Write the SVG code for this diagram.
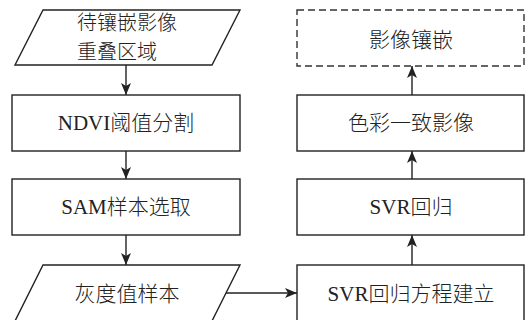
<svg xmlns="http://www.w3.org/2000/svg" width="528" height="320" viewBox="0 0 528 320">
<defs>
<style>
.box{fill:#fff;stroke:#222;stroke-width:1.4}
.dash{fill:#fff;stroke:#333;stroke-width:1.4;stroke-dasharray:7 4}
.t{font-family:"Noto Sans CJK SC",sans-serif;font-weight:300;font-size:21px;fill:#222}
.s{font-size:20px}
.c{text-anchor:middle}
.ln{stroke:#222;stroke-width:1.4;fill:none;marker-end:url(#ah)}
</style>
<marker id="ah" viewBox="0 0 12 10" refX="12" refY="5" markerWidth="12" markerHeight="10" markerUnits="userSpaceOnUse" orient="auto">
<path d="M0,0 L12,5 L0,10 L3,5 Z" fill="#222"/>
</marker>
</defs>
<rect width="528" height="320" fill="#fff"/>
<g id="connectors">
<line class="ln" x1="126" y1="65" x2="126" y2="95"/>
<line class="ln" x1="126" y1="151" x2="126" y2="179"/>
<line class="ln" x1="126" y1="235" x2="126" y2="265"/>
<line class="ln" x1="226" y1="293" x2="297" y2="293"/>
<line class="ln" x1="412" y1="265" x2="412" y2="235"/>
<line class="ln" x1="412" y1="179" x2="412" y2="151"/>
<line class="ln" x1="412" y1="95" x2="412" y2="66"/>
</g>
<g id="n1">
<polygon class="box" points="43,10 240,10 212,65 15,65"/>
<text class="t s" x="77" y="30">待镶嵌影像</text>
<text class="t s" x="77" y="59">重叠区域</text>
</g>
<g id="n2">
<rect class="box" x="12" y="95" width="228" height="56"/>
<text class="t c" x="126" y="130"><tspan style="font-family:'Liberation Serif',serif;font-weight:normal">NDVI</tspan>阈值分割</text>
</g>
<g id="n3">
<rect class="box" x="12" y="179" width="228" height="56"/>
<text class="t c" x="126" y="214"><tspan style="font-family:'Liberation Serif',serif;font-weight:normal">SAM</tspan>样本选取</text>
</g>
<g id="n4">
<polygon class="box" points="43,265 240,265 212,321 15,321"/>
<text class="t c" x="127" y="301">灰度值样本</text>
</g>
<g id="n5">
<rect class="box" x="297" y="265" width="227" height="58"/>
<text class="t c" x="411" y="301"><tspan style="font-family:'Liberation Serif',serif;font-weight:normal">SVR</tspan>回归方程建立</text>
</g>
<g id="n6">
<rect class="box" x="297" y="179" width="227" height="56"/>
<text class="t c" x="411" y="214"><tspan style="font-family:'Liberation Serif',serif;font-weight:normal">SVR</tspan>回归</text>
</g>
<g id="n7">
<rect class="box" x="297" y="95" width="227" height="56"/>
<text class="t c" x="411" y="130">色彩一致影像</text>
</g>
<g id="n8">
<rect class="dash" x="297" y="10" width="227" height="56"/>
<text class="t c" x="411" y="47">影像镶嵌</text>
</g>
</svg>
